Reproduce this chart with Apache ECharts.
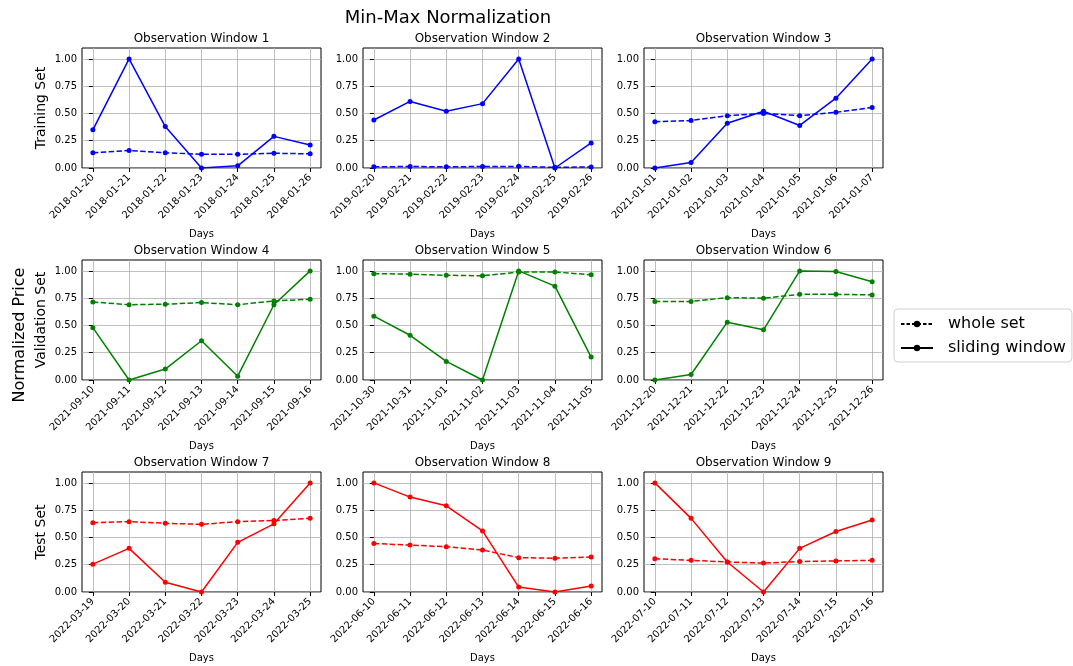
<!DOCTYPE html>
<html>
<head>
<meta charset="utf-8">
<script src="https://cdn.jsdelivr.net/npm/echarts@6/dist/echarts.min.js"></script>
<style>
  html, body { margin: 0; padding: 0; background: #fff; }
  #main { width: 1073px; height: 666px; }
</style>
</head>
<body>
<div id="main"></div>
<script>
// dates per observation window
var dates1 = ['2018-01-20', '2018-01-21', '2018-01-22', '2018-01-23', '2018-01-24', '2018-01-25', '2018-01-26'];
var dates2 = ['2019-02-20', '2019-02-21', '2019-02-22', '2019-02-23', '2019-02-24', '2019-02-25', '2019-02-26'];
var dates3 = ['2021-01-01', '2021-01-02', '2021-01-03', '2021-01-04', '2021-01-05', '2021-01-06', '2021-01-07'];
var dates4 = ['2021-09-10', '2021-09-11', '2021-09-12', '2021-09-13', '2021-09-14', '2021-09-15', '2021-09-16'];
var dates5 = ['2021-10-30', '2021-10-31', '2021-11-01', '2021-11-02', '2021-11-03', '2021-11-04', '2021-11-05'];
var dates6 = ['2021-12-20', '2021-12-21', '2021-12-22', '2021-12-23', '2021-12-24', '2021-12-25', '2021-12-26'];
var dates7 = ['2022-03-19', '2022-03-20', '2022-03-21', '2022-03-22', '2022-03-23', '2022-03-24', '2022-03-25'];
var dates8 = ['2022-06-10', '2022-06-11', '2022-06-12', '2022-06-13', '2022-06-14', '2022-06-15', '2022-06-16'];
var dates9 = ['2022-07-10', '2022-07-11', '2022-07-12', '2022-07-13', '2022-07-14', '2022-07-15', '2022-07-16'];

// whole set normalization (dashed)
var whole1 = [0.14, 0.16, 0.14, 0.125, 0.125, 0.135, 0.13];
var whole2 = [0.012, 0.013, 0.012, 0.013, 0.015, 0.006, 0.01];
var whole3 = [0.425, 0.435, 0.48, 0.50, 0.48, 0.51, 0.555];
var whole4 = [0.715, 0.69, 0.695, 0.71, 0.69, 0.725, 0.74];
var whole5 = [0.975, 0.97, 0.96, 0.955, 0.99, 0.99, 0.965];
var whole6 = [0.72, 0.72, 0.755, 0.75, 0.785, 0.785, 0.78];
var whole7 = [0.635, 0.645, 0.63, 0.62, 0.645, 0.655, 0.675];
var whole8 = [0.445, 0.43, 0.415, 0.385, 0.315, 0.31, 0.32];
var whole9 = [0.305, 0.29, 0.275, 0.265, 0.28, 0.285, 0.29];

// sliding window normalization (solid)
var slide1 = [0.35, 1.0, 0.38, 0.0, 0.02, 0.29, 0.21];
var slide2 = [0.44, 0.61, 0.52, 0.59, 1.0, 0.0, 0.23];
var slide3 = [0.0, 0.05, 0.41, 0.52, 0.39, 0.64, 1.0];
var slide4 = [0.48, 0.0, 0.10, 0.36, 0.035, 0.69, 1.0];
var slide5 = [0.585, 0.41, 0.17, 0.0, 1.0, 0.86, 0.21];
var slide6 = [0.0, 0.05, 0.53, 0.46, 1.0, 0.995, 0.90];
var slide7 = [0.255, 0.40, 0.09, 0.0, 0.455, 0.625, 1.0];
var slide8 = [1.0, 0.87, 0.79, 0.56, 0.045, 0.0, 0.055];
var slide9 = [1.0, 0.675, 0.275, 0.0, 0.40, 0.555, 0.66];

var yTicks = [0, 0.25, 0.5, 0.75, 1.0];
var rowNames = ['Training Set', 'Validation Set', 'Test Set'];
var rowColors = ['#0000ff', '#008000', '#ff0000'];

var allDates = [dates1, dates2, dates3, dates4, dates5, dates6, dates7, dates8, dates9];
var allWhole = [whole1, whole2, whole3, whole4, whole5, whole6, whole7, whole8, whole9];
var allSlide = [slide1, slide2, slide3, slide4, slide5, slide6, slide7, slide8, slide9];

var FONT = 'DejaVu Sans';
var lefts = [82, 363, 644];
var tops = [48, 260, 472];
var gw = 239, gh = 120;

function pairs(arr) {
	var out = [];
	for (var i = 0; i < arr.length; i++) out.push([i, arr[i]]);
	return out;
}

var grids = [], xAxes = [], yAxes = [], series = [], titles = [];

titles.push({
	text: 'Min-Max Normalization',
	left: 448, top: 9, textAlign: 'center', padding: 0,
	textStyle: { fontFamily: FONT, fontSize: 18, fontWeight: 'normal', color: '#000' }
});

for (var k = 0; k < 9; k++) {
	var r = Math.floor(k / 3), c = k % 3;
	var d = allDates[k];
	grids.push({
		left: lefts[c], top: tops[r], width: gw, height: gh,
		show: true, borderColor: '#000', borderWidth: 1, backgroundColor: 'transparent'
	});
	titles.push({
		text: 'Observation Window ' + (k + 1),
		left: lefts[c] + gw / 2, top: tops[r] - 15, textAlign: 'center', padding: 0,
		textStyle: { fontFamily: FONT, fontSize: 12, fontWeight: 'normal', color: '#000' }
	});
	xAxes.push({
		gridIndex: k, type: 'value', min: -0.3, max: 6.3,
		name: 'Days', nameLocation: 'middle', nameGap: 61,
		nameTextStyle: { fontFamily: FONT, fontSize: 10, color: '#000' },
		axisLine: { show: false },
		axisTick: { show: true, length: 4, customValues: [0, 1, 2, 3, 4, 5, 6], lineStyle: { color: '#000', width: 1 } },
		axisLabel: {
			rotate: 45, margin: 8, fontFamily: FONT, fontSize: 10, color: '#000',
			customValues: [0, 1, 2, 3, 4, 5, 6],
			formatter: (function (dd) { return function (v) { return dd[Math.round(v)]; }; })(d)
		},
		splitLine: { show: true, lineStyle: { color: '#b0b0b0', width: 0.8 } }
	});
	yAxes.push({
		gridIndex: k, type: 'value', min: 0, max: 1.1,
		name: c === 0 ? rowNames[r] : '', nameLocation: 'middle', nameGap: 34,
		nameTextStyle: { fontFamily: FONT, fontSize: 14, color: '#000' },
		axisLine: { show: false },
		axisTick: { show: true, length: 4, customValues: yTicks, lineStyle: { color: '#000', width: 1 } },
		axisLabel: {
			margin: 5, fontFamily: FONT, fontSize: 10, color: '#000', customValues: yTicks,
			formatter: function (v) { return v.toFixed(2); }
		},
		splitLine: { show: true, lineStyle: { color: '#b0b0b0', width: 0.8 } }
	});
	series.push({
		type: 'line', xAxisIndex: k, yAxisIndex: k, data: pairs(allWhole[k]),
		symbol: 'circle', symbolSize: 5, color: rowColors[r],
		lineStyle: { width: 1.5, type: [5.5, 2.4], color: rowColors[r] },
		itemStyle: { color: rowColors[r] }, animation: false, z: 3
	});
	series.push({
		type: 'line', xAxisIndex: k, yAxisIndex: k, data: pairs(allSlide[k]),
		symbol: 'circle', symbolSize: 5, color: rowColors[r],
		lineStyle: { width: 1.5, type: 'solid', color: rowColors[r] },
		itemStyle: { color: rowColors[r] }, animation: false, z: 3
	});
}

// legend-only series (black)
series.push({
	name: 'whole set', type: 'line', xAxisIndex: 0, yAxisIndex: 0, data: [],
	symbol: 'circle', symbolSize: 4, color: '#000',
	lineStyle: { width: 1.3, type: [3.5, 2], color: '#000' }, itemStyle: { color: '#000' }
});
series.push({
	name: 'sliding window', type: 'line', xAxisIndex: 0, yAxisIndex: 0, data: [],
	symbol: 'circle', symbolSize: 4, color: '#000',
	lineStyle: { width: 1.3, type: 'solid', color: '#000' }, itemStyle: { color: '#000' }
});

var option = {
	backgroundColor: '#fff',
	animation: false,
	title: titles,
	grid: grids,
	xAxis: xAxes,
	yAxis: yAxes,
	series: series,
	legend: {
		data: ['whole set', 'sliding window'],
		orient: 'vertical', left: 894, top: 309,
		itemWidth: 32, itemHeight: 8, itemGap: 8,
		padding: [7, 6, 6, 6],
		selectedMode: false,
		borderColor: '#d0d0d0', borderWidth: 1, borderRadius: 4, backgroundColor: '#fff',
		textStyle: { fontFamily: FONT, fontSize: 16, color: '#000', padding: [0, 0, 0, 10] }
	},
	graphic: [{
		type: 'text', x: 20, y: 335, rotation: Math.PI / 2,
		style: { text: 'Normalized Price', font: '16px "DejaVu Sans"', fill: '#000', textAlign: 'center', textVerticalAlign: 'middle' }
	}]
};

var myChart = echarts.init(document.getElementById('main'));
myChart.setOption(option);
</script>
</body>
</html>
